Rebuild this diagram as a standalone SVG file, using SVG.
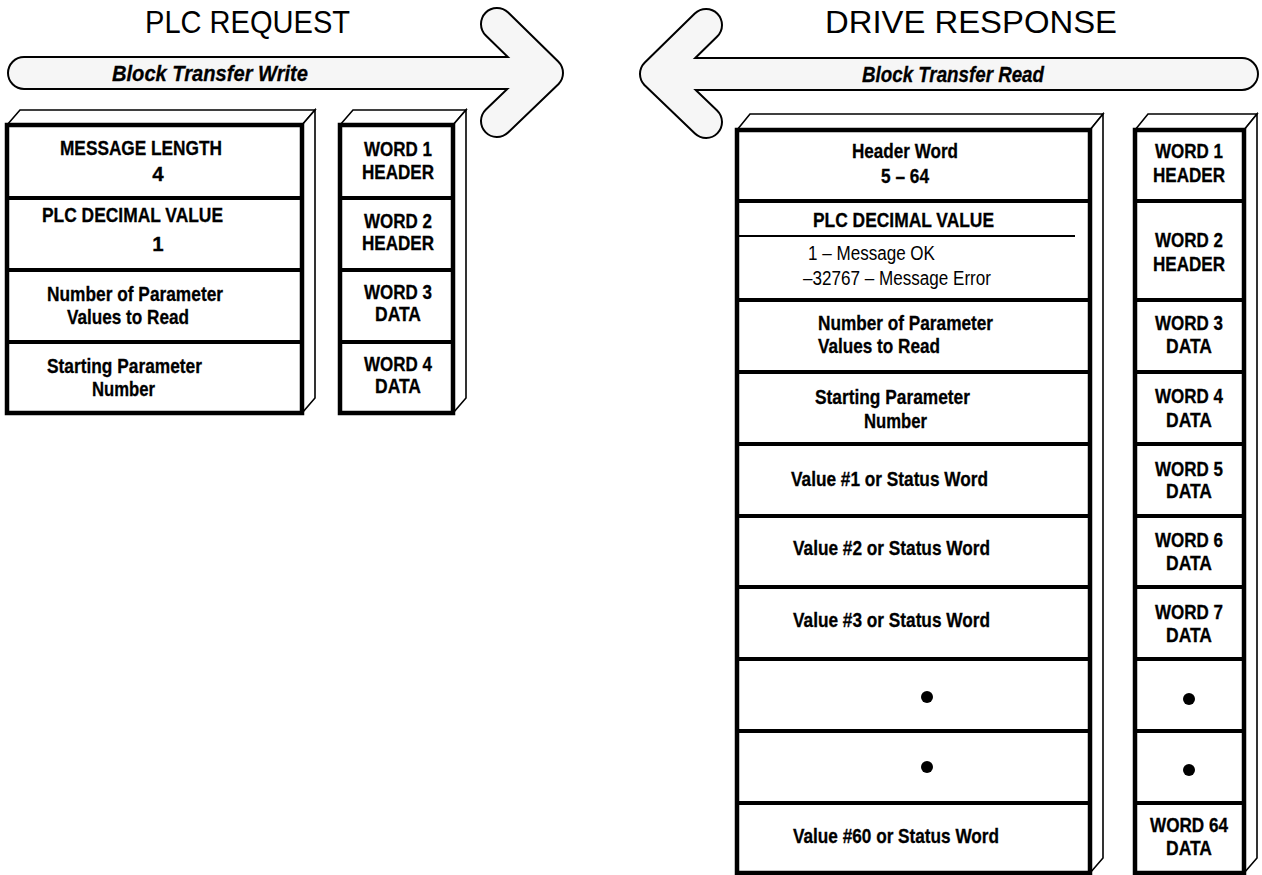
<svg xmlns="http://www.w3.org/2000/svg" width="1262" height="875" viewBox="0 0 1262 875">
  <style>
    .box { fill: #fff; stroke: #000; stroke-width: 4.5; }
    .sep { stroke: #000; stroke-width: 4; }
    .depth { fill: #fff; stroke: #000; stroke-width: 1.6; stroke-linejoin: miter; }
    .rule { stroke: #000; stroke-width: 2; }
    .t { font-family: "Liberation Sans", Arial, sans-serif; font-weight: bold; font-size: 20.5px; fill: #000; stroke: #000; stroke-width: 0.3; }
    .c { text-anchor: middle; }
    .r { font-family: "Liberation Sans", Arial, sans-serif; font-size: 20px; fill: #000; }
    .title { font-family: "Liberation Sans", Arial, sans-serif; font-size: 32px; fill: #000; }
    .lbl { font-family: "Liberation Sans", Arial, sans-serif; font-weight: bold; font-style: italic; font-size: 22px; fill: #000; stroke: #000; stroke-width: 0.3; }
    .arrow-edge { fill: none; stroke: #000; stroke-width: 34; stroke-linecap: round; stroke-linejoin: round; }
    .arrow-body { fill: none; stroke: #f6f6f6; stroke-width: 30; stroke-linecap: round; stroke-linejoin: round; }
  </style>

  <!-- transfer direction arrows -->
  <g id="connectors">
    <path class="arrow-edge" d="M24,73 H547 M497,24 L547,73 L497,121"/>
    <path class="arrow-edge" d="M1242,74 H656 M706,25 L656,74 L706,122"/>
    <path class="arrow-body" d="M24,73 H547 M497,24 L547,73 L497,121"/>
    <path class="arrow-body" d="M1242,74 H656 M706,25 L656,74 L706,122"/>
    <text class="lbl" x="112" y="81" textLength="196" lengthAdjust="spacingAndGlyphs">Block Transfer Write</text>
    <text class="lbl" x="862" y="82" textLength="182" lengthAdjust="spacingAndGlyphs">Block Transfer Read</text>
  </g>

  <g id="titles">
    <text class="title" x="145" y="33" textLength="205" lengthAdjust="spacingAndGlyphs">PLC REQUEST</text>
    <text class="title" x="825" y="33" textLength="292" lengthAdjust="spacingAndGlyphs">DRIVE RESPONSE</text>
  </g>

  <!-- PLC request: message contents -->
  <g id="plc-request-block">
    <polygon class="depth" points="7,125 20,110 315,110 302,125"/>
    <polygon class="depth" points="302,125 315,110 315,398 302,413"/>
    <rect class="box" x="7" y="125" width="295" height="288"/>
    <line class="sep" x1="7" y1="198" x2="302" y2="198"/>
    <line class="sep" x1="7" y1="270" x2="302" y2="270"/>
    <line class="sep" x1="7" y1="342" x2="302" y2="342"/>
    <g id="req-row1">
      <text class="t" x="60" y="155" textLength="162" lengthAdjust="spacingAndGlyphs">MESSAGE LENGTH</text>
      <text class="t c" x="158" y="181">4</text>
    </g>
    <g id="req-row2">
      <text class="t" x="42" y="222" textLength="181" lengthAdjust="spacingAndGlyphs">PLC DECIMAL VALUE</text>
      <text class="t c" x="158" y="251">1</text>
    </g>
    <g id="req-row3">
      <text class="t" x="47" y="301" textLength="176" lengthAdjust="spacingAndGlyphs">Number of Parameter</text>
      <text class="t" x="67" y="324" textLength="122" lengthAdjust="spacingAndGlyphs">Values to Read</text>
    </g>
    <g id="req-row4">
      <text class="t" x="47" y="373" textLength="155" lengthAdjust="spacingAndGlyphs">Starting Parameter</text>
      <text class="t" x="92" y="396" textLength="63" lengthAdjust="spacingAndGlyphs">Number</text>
    </g>
  </g>

  <!-- PLC request: word index -->
  <g id="plc-request-words">
    <polygon class="depth" points="340,125 353,110 466,110 453,125"/>
    <polygon class="depth" points="453,125 466,110 466,398 453,413"/>
    <rect class="box" x="340" y="125" width="113" height="288"/>
    <line class="sep" x1="340" y1="198" x2="453" y2="198"/>
    <line class="sep" x1="340" y1="270" x2="453" y2="270"/>
    <line class="sep" x1="340" y1="342" x2="453" y2="342"/>
    <g id="req-word1">
      <text class="t c" x="398" y="156" textLength="68" lengthAdjust="spacingAndGlyphs">WORD 1</text>
      <text class="t c" x="398" y="179" textLength="72" lengthAdjust="spacingAndGlyphs">HEADER</text>
    </g>
    <g id="req-word2">
      <text class="t c" x="398" y="228" textLength="68" lengthAdjust="spacingAndGlyphs">WORD 2</text>
      <text class="t c" x="398" y="250" textLength="72" lengthAdjust="spacingAndGlyphs">HEADER</text>
    </g>
    <g id="req-word3">
      <text class="t c" x="398" y="299" textLength="68" lengthAdjust="spacingAndGlyphs">WORD 3</text>
      <text class="t c" x="398" y="321" textLength="46" lengthAdjust="spacingAndGlyphs">DATA</text>
    </g>
    <g id="req-word4">
      <text class="t c" x="398" y="371" textLength="68" lengthAdjust="spacingAndGlyphs">WORD 4</text>
      <text class="t c" x="398" y="393" textLength="46" lengthAdjust="spacingAndGlyphs">DATA</text>
    </g>
  </g>

  <!-- drive response: message contents -->
  <g id="drive-response-block">
    <polygon class="depth" points="737,130 750,114 1103,114 1090,130"/>
    <polygon class="depth" points="1090,130 1103,114 1103,858 1090,873"/>
    <rect class="box" x="737" y="130" width="353" height="743"/>
    <line class="sep" x1="737" y1="201" x2="1090" y2="201"/>
    <line class="sep" x1="737" y1="300" x2="1090" y2="300"/>
    <line class="sep" x1="737" y1="372" x2="1090" y2="372"/>
    <line class="sep" x1="737" y1="444" x2="1090" y2="444"/>
    <line class="sep" x1="737" y1="516" x2="1090" y2="516"/>
    <line class="sep" x1="737" y1="587" x2="1090" y2="587"/>
    <line class="sep" x1="737" y1="659" x2="1090" y2="659"/>
    <line class="sep" x1="737" y1="731" x2="1090" y2="731"/>
    <line class="sep" x1="737" y1="803" x2="1090" y2="803"/>
    <g id="resp-row1">
      <text class="t c" x="905" y="158" textLength="106" lengthAdjust="spacingAndGlyphs">Header Word</text>
      <text class="t c" x="905" y="183" textLength="48" lengthAdjust="spacingAndGlyphs">5 – 64</text>
    </g>
    <g id="resp-row2">
      <text class="t" x="813" y="227" textLength="181" lengthAdjust="spacingAndGlyphs">PLC DECIMAL VALUE</text>
      <line class="rule" x1="739" y1="236" x2="1075" y2="236"/>
      <text class="r" x="808" y="260" textLength="127" lengthAdjust="spacingAndGlyphs">1 – Message OK</text>
      <text class="r" x="803" y="285" textLength="188" lengthAdjust="spacingAndGlyphs">–32767 – Message Error</text>
    </g>
    <g id="resp-row3">
      <text class="t" x="818" y="330" textLength="175" lengthAdjust="spacingAndGlyphs">Number of Parameter</text>
      <text class="t" x="818" y="353" textLength="122" lengthAdjust="spacingAndGlyphs">Values to Read</text>
    </g>
    <g id="resp-row4">
      <text class="t" x="815" y="404" textLength="155" lengthAdjust="spacingAndGlyphs">Starting Parameter</text>
      <text class="t" x="864" y="428" textLength="63" lengthAdjust="spacingAndGlyphs">Number</text>
    </g>
    <g id="resp-row5">
      <text class="t" x="791" y="486" textLength="197" lengthAdjust="spacingAndGlyphs">Value #1 or Status Word</text>
    </g>
    <g id="resp-row6">
      <text class="t" x="793" y="555" textLength="197" lengthAdjust="spacingAndGlyphs">Value #2 or Status Word</text>
    </g>
    <g id="resp-row7">
      <text class="t" x="793" y="627" textLength="197" lengthAdjust="spacingAndGlyphs">Value #3 or Status Word</text>
    </g>
    <g id="resp-row8">
      <circle cx="927" cy="697" r="6"/>
    </g>
    <g id="resp-row9">
      <circle cx="927" cy="767" r="6"/>
    </g>
    <g id="resp-row10">
      <text class="t" x="793" y="843" textLength="206" lengthAdjust="spacingAndGlyphs">Value #60 or Status Word</text>
    </g>
  </g>

  <!-- drive response: word index -->
  <g id="drive-response-words">
    <polygon class="depth" points="1135,130 1148,114 1257,114 1244,130"/>
    <polygon class="depth" points="1244,130 1257,114 1257,858 1244,873"/>
    <rect class="box" x="1135" y="130" width="109" height="743"/>
    <line class="sep" x1="1135" y1="201" x2="1244" y2="201"/>
    <line class="sep" x1="1135" y1="300" x2="1244" y2="300"/>
    <line class="sep" x1="1135" y1="372" x2="1244" y2="372"/>
    <line class="sep" x1="1135" y1="444" x2="1244" y2="444"/>
    <line class="sep" x1="1135" y1="516" x2="1244" y2="516"/>
    <line class="sep" x1="1135" y1="587" x2="1244" y2="587"/>
    <line class="sep" x1="1135" y1="659" x2="1244" y2="659"/>
    <line class="sep" x1="1135" y1="731" x2="1244" y2="731"/>
    <line class="sep" x1="1135" y1="803" x2="1244" y2="803"/>
    <g id="resp-word1">
      <text class="t c" x="1189" y="158" textLength="68" lengthAdjust="spacingAndGlyphs">WORD 1</text>
      <text class="t c" x="1189" y="182" textLength="72" lengthAdjust="spacingAndGlyphs">HEADER</text>
    </g>
    <g id="resp-word2">
      <text class="t c" x="1189" y="247" textLength="68" lengthAdjust="spacingAndGlyphs">WORD 2</text>
      <text class="t c" x="1189" y="271" textLength="72" lengthAdjust="spacingAndGlyphs">HEADER</text>
    </g>
    <g id="resp-word3">
      <text class="t c" x="1189" y="330" textLength="68" lengthAdjust="spacingAndGlyphs">WORD 3</text>
      <text class="t c" x="1189" y="353" textLength="46" lengthAdjust="spacingAndGlyphs">DATA</text>
    </g>
    <g id="resp-word4">
      <text class="t c" x="1189" y="403" textLength="68" lengthAdjust="spacingAndGlyphs">WORD 4</text>
      <text class="t c" x="1189" y="427" textLength="46" lengthAdjust="spacingAndGlyphs">DATA</text>
    </g>
    <g id="resp-word5">
      <text class="t c" x="1189" y="476" textLength="68" lengthAdjust="spacingAndGlyphs">WORD 5</text>
      <text class="t c" x="1189" y="498" textLength="46" lengthAdjust="spacingAndGlyphs">DATA</text>
    </g>
    <g id="resp-word6">
      <text class="t c" x="1189" y="547" textLength="68" lengthAdjust="spacingAndGlyphs">WORD 6</text>
      <text class="t c" x="1189" y="570" textLength="46" lengthAdjust="spacingAndGlyphs">DATA</text>
    </g>
    <g id="resp-word7">
      <text class="t c" x="1189" y="619" textLength="68" lengthAdjust="spacingAndGlyphs">WORD 7</text>
      <text class="t c" x="1189" y="642" textLength="46" lengthAdjust="spacingAndGlyphs">DATA</text>
    </g>
    <g id="resp-word8">
      <circle cx="1189" cy="699" r="6"/>
    </g>
    <g id="resp-word9">
      <circle cx="1189" cy="770" r="6"/>
    </g>
    <g id="resp-word64">
      <text class="t c" x="1189" y="832" textLength="78" lengthAdjust="spacingAndGlyphs">WORD 64</text>
      <text class="t c" x="1189" y="855" textLength="46" lengthAdjust="spacingAndGlyphs">DATA</text>
    </g>
  </g>
</svg>
